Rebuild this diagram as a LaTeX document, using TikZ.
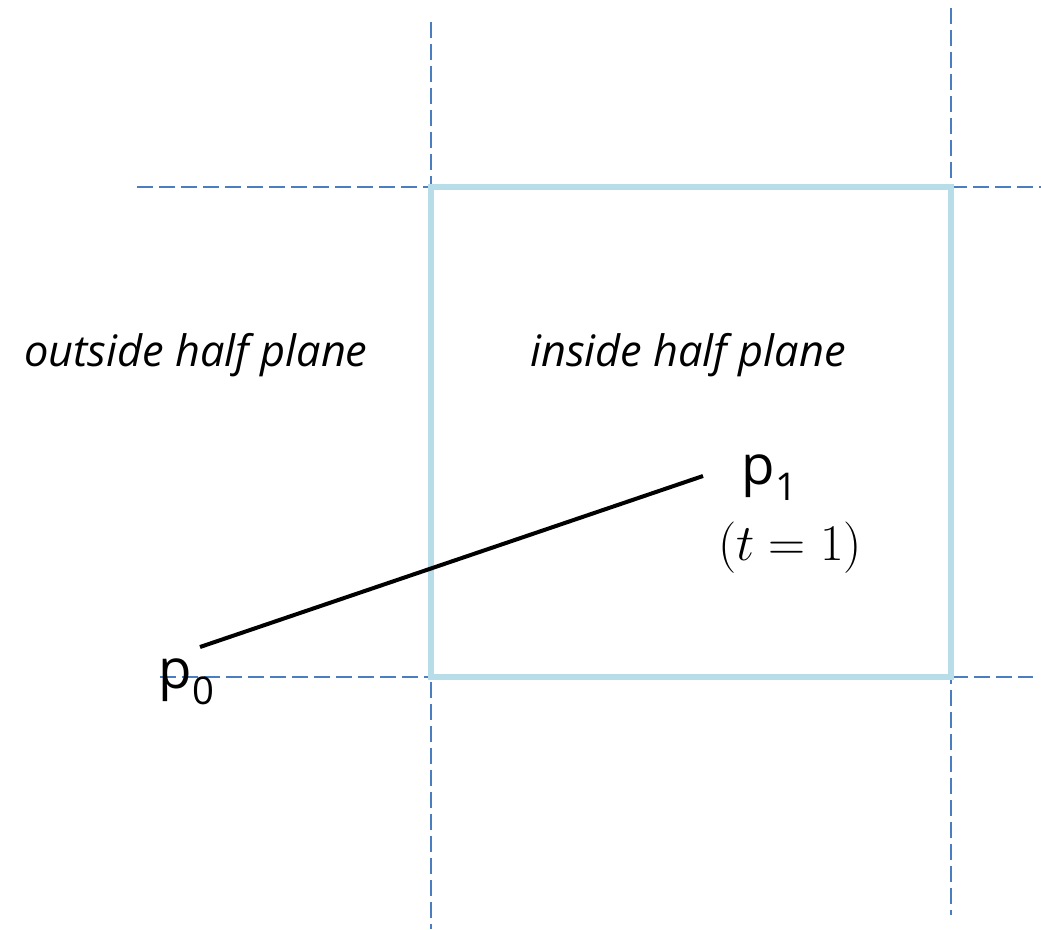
\documentclass[tikz,border=0pt]{standalone}
\usepackage{amsmath}
\usepackage{fontspec}
\setmainfont{Open Sans}
\usepackage{xcolor}
\usetikzlibrary{positioning}

\definecolor{gridblue}{RGB}{74,126,193}
\definecolor{clipblue}{RGB}{182,221,232}

\begin{document}
\begin{tikzpicture}[x=0.75pt, y=-0.75pt,
  gridline/.style={gridblue, line width=1.6pt, dash pattern=on 12pt off 4.5pt},
  cliprect/.style={clipblue, line width=4.2pt},
  segment/.style={black, line width=3pt},
  region/.style={font=\fontsize{32.5}{36}\selectfont\itshape},
  endpoint/.style={font=\fontsize{41}{44}\selectfont, inner sep=0pt}]
  \useasboundingbox (0,0) rectangle (1041,929);
  % clipping window
  \draw[gridline] (431,22) -- (431,929);
  \draw[gridline] (951,8) -- (951,915);
  \draw[gridline] (137,187) -- (1041,187);
  \draw[gridline] (160,677) -- (1033,677);
  \draw[cliprect] (431,187) rectangle (951,677);
  \node[region] (outside) at (196,355) {outside half plane};
  \node[region] (inside) at (688,355) {inside half plane};
  % line segment
  \coordinate (a) at (200,647);
  \coordinate (b) at (703,476);
  \draw[segment] (a) -- (b);
  \node[endpoint] (p0) at (187,682) {p\textsubscript{0}};
  \node[endpoint] (p1) at (770,478) {p\textsubscript{1}};
  \node[inner sep=0pt] (t1) at (790,548) {\scalebox{1.55}{\fontsize{24.88}{28}\selectfont$(t=1)$}};
\end{tikzpicture}
\end{document}
